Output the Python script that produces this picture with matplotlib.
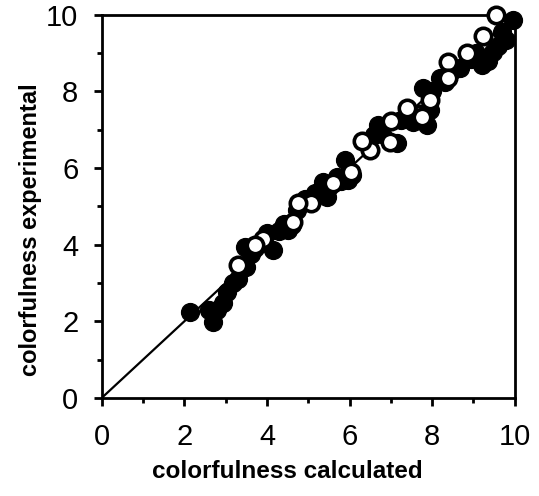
import matplotlib.pyplot as plt
from matplotlib.ticker import MultipleLocator

# filled circles (calculated, experimental)
filled_x = [2.13, 2.69, 2.78, 2.93, 3.17, 3.03, 2.6, 3.5, 3.46, 4.0, 4.14, 4.72, 4.5,
            4.92, 5.35, 6.07, 5.45, 5.69, 5.88, 6.78, 7.14, 7.53, 7.87, 6.68, 7.94,
            7.77, 9.2, 9.8, 9.95, 9.47, 8.67, 8.18, 9.35, 3.7, 4.6,
            3.6, 3.85, 4.3, 5.15, 5.5, 5.95, 6.6, 7.25, 8.0, 8.5, 8.95, 9.6, 9.7,
            4.4, 3.3, 5.8, 7.4, 8.3, 9.05]
filled_y = [2.25, 1.98, 2.3, 2.48, 3.0, 2.77, 2.3, 3.42, 3.94, 4.3, 3.87, 4.9, 4.39,
            5.2, 5.63, 5.82, 5.25, 5.77, 6.2, 6.9, 6.66, 7.2, 7.13, 7.13, 7.52,
            8.1, 8.7, 9.35, 9.87, 9.03, 8.6, 8.35, 8.8, 3.9, 4.5,
            3.75, 4.05, 4.35, 5.35, 5.5, 5.7, 6.85, 7.25, 8.0, 8.55, 8.85, 9.2, 9.55,
            4.55, 3.1, 5.65, 7.3, 8.25, 9.0]

# open circles
open_x = [3.3, 3.9, 4.62, 5.06, 5.6, 4.75, 3.7, 6.03, 6.5, 6.97, 7.0, 7.7, 7.4, 6.3,
          9.54, 9.22, 8.84, 8.38, 8.38, 7.75, 7.94]
open_y = [3.47, 4.15, 4.6, 5.09, 5.6, 5.1, 4.0, 5.9, 6.48, 6.68, 7.23, 7.4, 7.57, 6.7,
          10.0, 9.45, 9.0, 8.77, 8.35, 7.34, 7.78]

plt.rcParams["font.family"] = ["Liberation Sans", "DejaVu Sans"]

fig = plt.figure(figsize=(5.39, 4.96), dpi=100)
ax = fig.add_axes([0.189, 0.198, 0.766, 0.772])

ax.plot([0, 10], [0, 10], color="black", linewidth=1.6, zorder=1)
ax.scatter(filled_x, filled_y, s=165, color="black", edgecolors="black",
           linewidths=1, zorder=2, clip_on=False)
ax.scatter(open_x, open_y, s=140, facecolors="white", edgecolors="black",
           linewidths=2.6, zorder=3, clip_on=False)

ax.set_xlim(0, 10)
ax.set_ylim(0, 10)
ax.xaxis.set_major_locator(MultipleLocator(2))
ax.yaxis.set_major_locator(MultipleLocator(2))
ax.xaxis.set_minor_locator(MultipleLocator(1))
ax.yaxis.set_minor_locator(MultipleLocator(1))
ax.tick_params(which="both", direction="out", width=2, labelsize=21)
ax.tick_params(which="major", length=6)
ax.tick_params(which="minor", length=3.5)
ax.tick_params(axis="x", pad=12)
ax.tick_params(axis="y", pad=11)
for s in ax.spines.values():
    s.set_linewidth(2)

ax.set_xlabel("colorfulness calculated", fontsize=17.5, fontweight="bold")
ax.set_ylabel("colorfulness experimental", fontsize=17, fontweight="bold")
ax.xaxis.set_label_coords(0.45, -0.162)
ax.yaxis.set_label_coords(-0.145, 0.44)

fig.savefig("out.png", dpi=100)
